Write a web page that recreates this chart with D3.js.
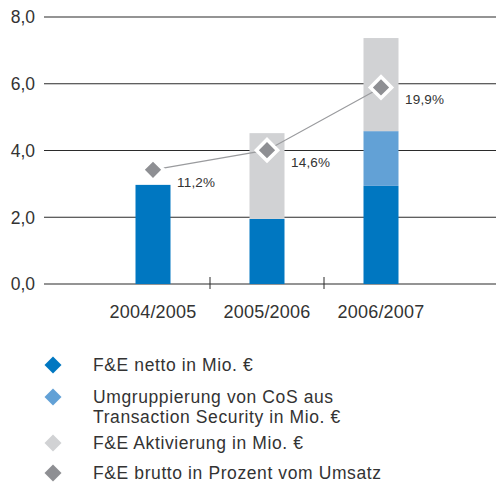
<!DOCTYPE html>
<html lang="de">
<head>
<meta charset="UTF-8">
<title>F&amp;E</title>
<style>
  body { margin: 0; background: #fff; }
  svg { display: block; font-family: "Liberation Sans", Arial, sans-serif; }
</style>
</head>
<body>
<svg></svg>
<script src="https://cdn.jsdelivr.net/npm/d3@7"></script>
<script>
    const years = ["2004/2005", "2005/2006", "2006/2007"];
    const netto = [2.97, 1.95, 2.94];
    const umgruppierung = [0, 0, 1.64];
    const aktivierung = [0, 2.57, 2.79];
    const bruttoPct = ["11,2%", "14,6%", "19,9%"];
    const bruttoPos = [3.42, 4.01, 5.89];   // diamond height
    const yTicks = [0, 2, 4, 6, 8];

    const legendItems = [
        {color: "#0077c1", lines: ["F&E netto in Mio. €"]},
        {color: "#62a1d6", lines: ["Umgruppierung von CoS aus", "Transaction Security in Mio. €"]},
        {color: "#d1d2d4", lines: ["F&E Aktivierung in Mio. €"]},
        {color: "#8e8f93", lines: ["F&E brutto in Prozent vom Umsatz"]}
    ];

    const width = 496, height = 486;
    const left = 44, right = 496;

    const svg = d3.select("svg")
        .attr("width", width)
        .attr("height", height);

    const x = d3.scaleBand().domain(years).range([96, 438]).padding(0);
    const y = d3.scaleLinear().domain([0, 8]).range([284, 17]);
    const barW = 35;

    // grid lines + y labels
    const grid = svg.append("g");
    grid.selectAll("line")
        .data(yTicks)
        .enter().append("line")
        .attr("x1", left).attr("x2", right)
        .attr("y1", d => y(d)).attr("y2", d => y(d))
        .attr("stroke", "#2b2b2b")
        .attr("stroke-width", 1.2);
    grid.selectAll("text")
        .data(yTicks)
        .enter().append("text")
        .attr("x", 35)
        .attr("y", d => y(d))
        .attr("dy", "0.36em")
        .attr("text-anchor", "end")
        .attr("fill", "#333")
        .style("font-size", "17.5px")
        .text(d => d3.format(".1f")(d).replace(".", ","));

    // category separators
    svg.append("g").selectAll("line")
        .data(years.slice(1))
        .enter().append("line")
        .attr("x1", d => x(d)).attr("x2", d => x(d))
        .attr("y1", y(0) - 7).attr("y2", y(0) + 5)
        .attr("stroke", "#2b2b2b");

    // stacked bars
    const stacks = years.map((yr, i) => {
        const parts = [
            {v: netto[i], c: legendItems[0].color},
            {v: umgruppierung[i], c: legendItems[1].color},
            {v: aktivierung[i], c: legendItems[2].color}
        ];
        let acc = 0;
        return parts.map(p => { const r = {yr, y0: acc, y1: acc + p.v, c: p.c}; acc += p.v; return r; });
    }).flat().filter(d => d.y1 > d.y0);

    svg.append("g").selectAll("rect")
        .data(stacks)
        .enter().append("rect")
        .attr("x", d => x(d.yr) + x.bandwidth() / 2 - barW / 2)
        .attr("width", barW)
        .attr("y", d => y(d.y1))
        .attr("height", d => y(d.y0) - y(d.y1))
        .attr("fill", d => d.c);

    // x labels
    svg.append("g").selectAll("text")
        .data(years)
        .enter().append("text")
        .attr("x", d => x(d) + x.bandwidth() / 2)
        .attr("y", 318)
        .attr("text-anchor", "middle")
        .attr("fill", "#333")
        .style("font-size", "18px")
        .style("letter-spacing", "0.2px")
        .text(d => d);

    // line + diamonds
    const pts = years.map((yr, i) => [x(yr) + x.bandwidth() / 2, y(bruttoPos[i])]);
    svg.append("path")
        .attr("d", d3.line()(pts))
        .attr("fill", "none")
        .attr("stroke", "#9a9b9e")
        .attr("stroke-width", 1.2);

    const pg = svg.append("g").selectAll("g")
        .data(pts)
        .enter().append("g")
        .attr("transform", d => `translate(${d[0]},${d[1]}) rotate(45)`);
    pg.append("rect")
        .attr("x", -7.5).attr("y", -7.5).attr("width", 15).attr("height", 15)
        .attr("fill", "#8e8f93")
        .attr("stroke", "#fff")
        .attr("stroke-width", 3.5);

    svg.append("g").selectAll("text")
        .data(pts)
        .enter().append("text")
        .attr("x", d => d[0] + 24)
        .attr("y", d => d[1] + 12)
        .attr("dy", "0.36em")
        .attr("fill", "#333")
        .style("font-size", "13.5px")
        .style("letter-spacing", "0.2px")
        .text((d, i) => bruttoPct[i]);

    // legend
    const rowY = [365, 397, 443, 473];
    const lg = svg.append("g").selectAll("g")
        .data(legendItems)
        .enter().append("g")
        .attr("transform", (d, i) => `translate(0,${rowY[i]})`);
    lg.append("rect")
        .attr("transform", "translate(53,0) rotate(45)")
        .attr("x", -6).attr("y", -6).attr("width", 12).attr("height", 12)
        .attr("fill", d => d.color);
    lg.append("text")
        .attr("x", 93)
        .attr("fill", "#333")
        .style("font-size", "17.5px")
        .style("letter-spacing", "0.6px")
        .selectAll("tspan")
        .data(d => d.lines)
        .enter().append("tspan")
        .attr("x", 93)
        .attr("y", (d, i) => i * 20)
        .attr("dy", "0.36em")
        .text(d => d);
</script>
</body>
</html>
